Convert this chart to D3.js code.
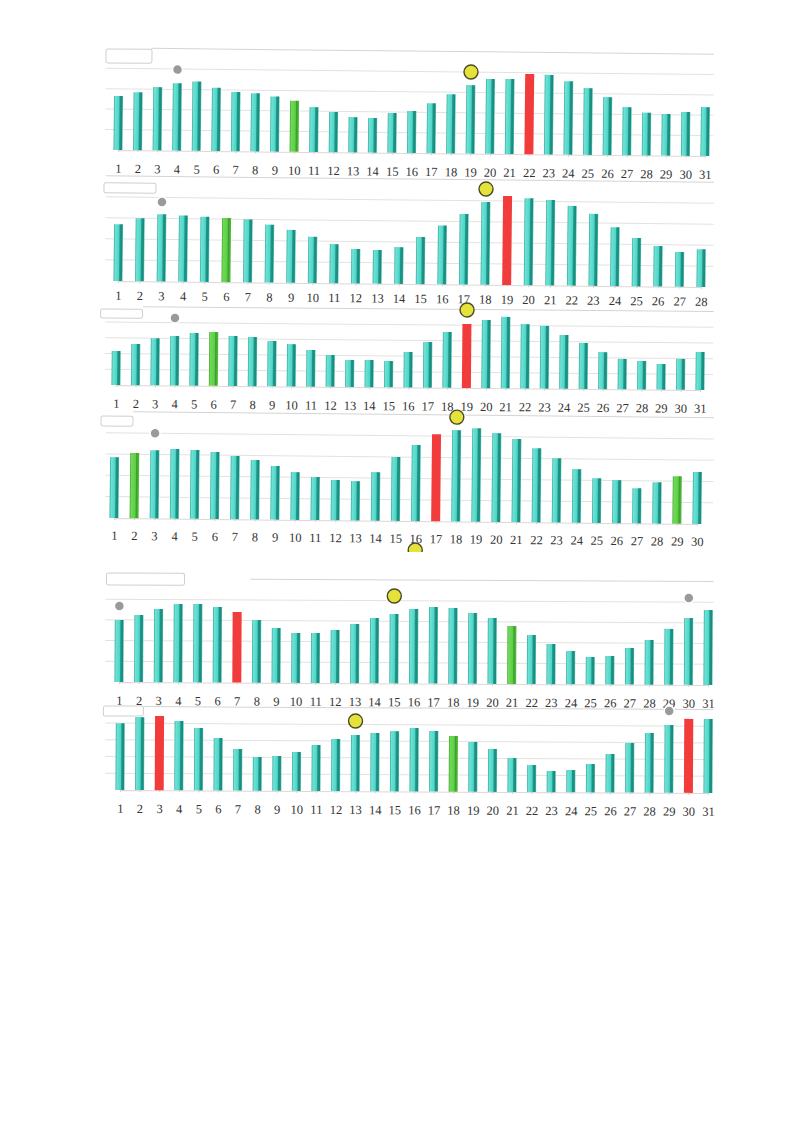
<!DOCTYPE html>
<html>
<head>
<meta charset="utf-8">
<script src="https://cdn.jsdelivr.net/npm/d3@7"></script>
<style>
  html, body { margin: 0; padding: 0; background: #fff; }
  svg { display: block; }
</style>
</head>
<body>
<svg id="chart" width="795" height="1123"></svg>
<script>
// ---------- DATA ----------
const days28 = [1,2,3,4,5,6,7,8,9,10,11,12,13,14,15,16,17,18,19,20,21,22,23,24,25,26,27,28];
const days30 = [1,2,3,4,5,6,7,8,9,10,11,12,13,14,15,16,17,18,19,20,21,22,23,24,25,26,27,28,29,30];
const days31 = [1,2,3,4,5,6,7,8,9,10,11,12,13,14,15,16,17,18,19,20,21,22,23,24,25,26,27,28,29,30,31];
const gridTicks = [10, 20, 30, 40, 50];

const values1 = [26.5,28.4,31,33,34,31,29,28.5,27,25,22,19.7,17.3,17,19.5,20.6,24.5,29,33.6,36.7,36.8,39.3,39,36,32.7,28.4,23.6,21,20.4,21.5,24];
const values2 = [27,30,32,31.5,31,30.5,30,27.6,25.2,22,18.6,16.4,16,17.5,22.4,28,33.6,39.4,42.4,41.4,40.7,38,34.3,28,23,19.3,16.6,18];
const values3 = [21.7,26.2,30,31.5,33.5,34.3,31.8,31.3,28.9,27,23.4,20.3,17.2,17.3,16.8,22.6,29.1,35.6,40.8,43.4,45.5,41,40,34.3,29.3,23.6,19.4,18.2,16.4,19.7,24.2];
const values4 = [28.6,30.6,32,32.7,32.3,31.5,29.7,27.9,25.2,22.4,20.2,18.9,18.5,22.8,30,35.7,40.9,42.9,43.9,41.7,39,34.8,30.2,25.2,21,20.2,16.5,19.4,22.3,24.4];
const values5 = [30,32.4,35.4,37.8,37.9,36.5,34.1,30.3,26.5,24.1,24.2,25.6,28.6,31.5,33.5,36,37,36.6,34.2,31.8,28,23.7,19.4,16.1,13.2,13.8,17.7,21.6,27,32.3,36.2];
const values6 = [40,43.7,44.4,41.5,37.4,31.4,24.9,20.2,20.8,23.3,27.5,31.2,33.6,34.9,36.1,38,36.3,33.4,29.8,25.7,20.4,16.2,12.7,13.4,17,23,29.7,35.7,40.6,44.3,44.3];

// highlighted days per panel
const redDays   = [[22], [19], [19], [17], [7],  [3, 30]];
const greenDays = [[10], [6],  [6],  [2, 29], [21], [18]];

// circle markers per panel: day, level, kind
const markerDays   = [[4, 19], [3, 18], [4, 19], [3, 18, 16], [1, 15, 30], [13, 29]];
const markerLevels = [[39.7, 40], [37.8, 45.6], [43, 49.7], [40, 49, -13.6], [36.7, 42.2, 42], [42, 49]];
const markerKinds  = [["grey","yellow"], ["grey","yellow"], ["grey","yellow"], ["grey","yellow","yellow"], ["grey","yellow","grey"], ["yellow","grey"]];

const panelDays   = [days31, days28, days31, days30, days31, days31];
const panelValues = [values1, values2, values3, values4, values5, values6];

// ---------- LAYOUT ----------
const layout = [
  { x0: 118, x1: 705, base: 150, ppu: 2.04, tilt: 0.59, box: [105, 49, 46, 14], lineFrom: 150, clipBottom: 184, pad: 12 },
  { x0: 118, x1: 701, base: 281, ppu: 2.10, tilt: 0.59, box: [103, 183, 52, 10], lineFrom: 105, clipBottom: 312, pad: 8 },
  { x0: 116, x1: 700, base: 385, ppu: 1.57, tilt: 0.49, box: [100, 309, 42, 9],  lineFrom: 142, clipBottom: 414, pad: 12 },
  { x0: 114, x1: 697, base: 518, ppu: 2.13, tilt: 0.59, box: [100, 416, 32, 10], lineFrom: 132, clipBottom: 552, pad: 11 },
  { x0: 119, x1: 708, base: 682, ppu: 2.07, tilt: 0.29, box: [106, 573, 78, 12], lineFrom: 250, clipBottom: 710, pad: 12 },
  { x0: 120, x1: 708, base: 790, ppu: 1.67, tilt: 0.29, box: [103, 706, 40, 10], lineFrom: 143, clipBottom: 822, pad: 12 }
];

const svg = d3.select("#chart");
const defs = svg.append("defs");

function barGradient(id, stops) {
  const g = defs.append("linearGradient").attr("id", id)
    .attr("x1", "0%").attr("x2", "100%").attr("y1", "0%").attr("y2", "0%");
  stops.forEach(s => g.append("stop").attr("offset", s[0]).attr("stop-color", s[1]));
}
barGradient("teal", [["0%","#2aa596"],["14%","#6fe2d6"],["55%","#4fd6c7"],["68%","#1f9587"],["88%","#1c8a7d"],["100%","#4fcabd"]]);
barGradient("green", [["0%","#3f9f2c"],["14%","#72d95a"],["60%","#5ccf45"],["72%","#3c9e2c"],["100%","#58c043"]]);

const barW = 9;

layout.forEach((L, i) => {
  const days = panelDays[i];
  const vals = panelValues[i];

  defs.append("clipPath").attr("id", "clip" + i)
    .append("rect").attr("x", 0).attr("y", L.box[1] - 20)
    .attr("width", 795).attr("height", L.clipBottom - (L.box[1] - 20));

  const g = svg.append("g")
    .attr("clip-path", "url(#clip" + i + ")")
    .append("g")
    .attr("transform", `rotate(${L.tilt},${L.x0},${L.base})`);

  const x = d3.scalePoint().domain(days).range([L.x0, L.x1]);
  const y = d3.scaleLinear().domain([0, 50]).range([L.base, L.base - 50 * L.ppu]);

  // gridlines
  g.selectAll("line.grid").data(gridTicks).join("line")
    .attr("class", "grid")
    .attr("x1", d => d === 50 ? L.lineFrom : 105)
    .attr("x2", 713)
    .attr("y1", d => y(d)).attr("y2", d => y(d))
    .attr("stroke", d => d === 50 ? "#d4d4d4" : "#e2e2e2")
    .attr("stroke-width", 1);

  // x axis
  const axis = d3.axisBottom(x).tickSize(2).tickPadding(L.pad);
  const ax = g.append("g").attr("transform", `translate(0,${L.base})`).call(axis);
  ax.select(".domain").attr("stroke", "#e0d6d6");
  ax.selectAll(".tick line").attr("stroke", "#e8c8c8");
  ax.selectAll(".tick text")
    .attr("font-family", "'Liberation Serif', 'DejaVu Serif', serif")
    .attr("font-size", 12.5)
    .attr("fill", "#333");

  // bars
  g.selectAll("rect.bar").data(days).join("rect")
    .attr("class", "bar")
    .attr("x", d => x(d) - barW / 2)
    .attr("width", barW)
    .attr("y", (d, j) => y(vals[j]))
    .attr("height", (d, j) => y(0) - y(vals[j]))
    .attr("fill", d => redDays[i].includes(d) ? "#f23b3b" : (greenDays[i].includes(d) ? "url(#green)" : "url(#teal)"));

  // title box
  const b = L.box;
  g.append("rect")
    .attr("x", b[0]).attr("y", b[1]).attr("width", b[2]).attr("height", b[3])
    .attr("rx", 2).attr("fill", "#fff").attr("stroke", "#cfcfcf").attr("stroke-width", 1);

  // markers
  const mk = markerDays[i].map((d, k) => ({ day: d, level: markerLevels[i][k], kind: markerKinds[i][k] }));
  g.selectAll("circle.mk").data(mk).join("circle")
    .attr("class", "mk")
    .attr("cx", d => x(d.day))
    .attr("cy", d => y(d.level))
    .attr("r", d => d.kind === "yellow" ? 7 : 5)
    .attr("fill", d => d.kind === "yellow" ? "#e6e23c" : "#9a9a9a")
    .attr("stroke", d => d.kind === "yellow" ? "#4a4a2a" : "#ffffff")
    .attr("stroke-width", d => d.kind === "yellow" ? 1.4 : 1.5);
});
</script>
</body>
</html>
